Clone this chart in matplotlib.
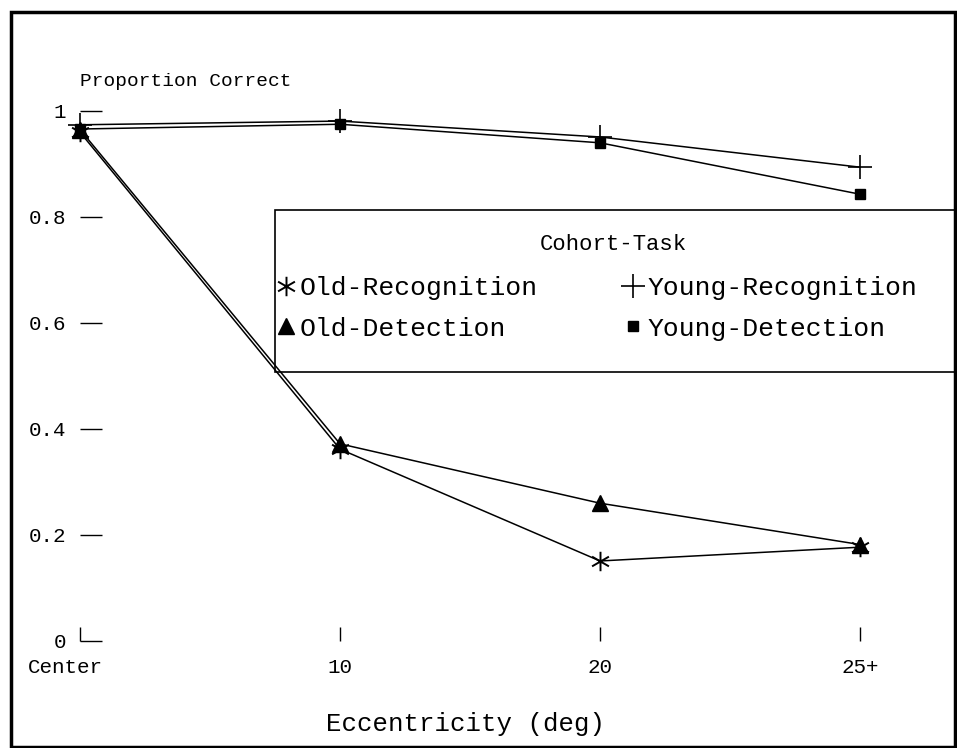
import numpy as np
import matplotlib
matplotlib.use("Agg")
import matplotlib.pyplot as plt
from matplotlib.path import Path
from matplotlib.patches import Rectangle
from matplotlib.lines import Line2D
from matplotlib.transforms import ScaledTranslation

plt.rcParams['font.family'] = ['Liberation Mono', 'DejaVu Sans Mono']

categories = ["Center", "10", "20", "25+"]
old_recognition = [0.960, 0.362, 0.151, 0.177]
old_detection = [0.965, 0.372, 0.260, 0.182]
young_recognition = [0.974, 0.981, 0.951, 0.894]
young_detection = [0.966, 0.975, 0.940, 0.843]
yticks = [0, 0.2, 0.4, 0.6, 0.8, 1]
ytick_labels = ["0", "0.2", "0.4", "0.6", "0.8", "1"]

W, H = 957, 748
fig = plt.figure(figsize=(W / 100, H / 100), dpi=100)
ax = fig.add_axes([80 / W, 1 - 641 / H, (860 - 80) / W, (641 - 111) / H])

c = np.cos(np.pi / 6)
ast = Path([(0, -1), (0, 1), (-c, -0.5), (c, 0.5), (-c, 0.5), (c, -0.5)],
           [Path.MOVETO, Path.LINETO, Path.MOVETO, Path.LINETO, Path.MOVETO, Path.LINETO])

x = np.arange(len(categories))
common = dict(color='black', lw=1.1, clip_on=False)
ax.plot(x, old_recognition, marker=ast, ms=14, mfc='none', mec='black', mew=1.4,
        label='Old-Recognition', **common)
ax.plot(x, old_detection, marker='^', ms=11, mfc='black', mec='black',
        label='Old-Detection', **common)
ax.plot(x, young_recognition, marker='+', ms=17, mew=1.2, mec='black',
        label='Young-Recognition', **common)
ax.plot(x, young_detection, marker='s', ms=7.5, mfc='black', mec='black',
        label='Young-Detection', **common)

ax.set_xlim(0, 3)
ax.set_ylim(0, 1)
for s in ax.spines.values():
    s.set_visible(False)
ax.set_xticks(x)
ax.set_xticklabels(categories, fontsize=15)
ax.set_yticks(yticks)
ax.set_yticklabels(ytick_labels, fontsize=15)
ax.tick_params(axis='y', direction='in', length=16, width=1.0, pad=10)
ax.tick_params(axis='x', direction='in', length=10, width=1.0, pad=12)
lab0 = ax.get_xticklabels()[0]
lab0.set_transform(lab0.get_transform() + ScaledTranslation(-0.15, 0, fig.dpi_scale_trans))

fig.text(80 / W, 1 - 82 / H, "Proportion Correct", fontsize=14, ha='left', va='center')
fig.text(466 / W, 1 - 724 / H, "Eccentricity (deg)", fontsize=18.5, ha='center', va='center')

# legend frame and title
fig.patches.append(Rectangle((275 / W, 1 - 372 / H), (955 - 275) / W, (372 - 210) / H,
                             transform=fig.transFigure, fill=False, ec='black', lw=1.2))
fig.text(613 / W, 1 - 245 / H, "Cohort-Task", fontsize=16, ha='center', va='center')

h1 = Line2D([], [], ls='none', marker=ast, ms=14, mfc='none', mec='black', mew=1.4)
h3 = Line2D([], [], ls='none', marker='^', ms=11, color='black')
h2 = Line2D([], [], ls='none', marker='+', ms=17, mew=1.2, color='black')
h4 = Line2D([], [], ls='none', marker='s', ms=7.5, color='black')
leg = fig.legend([h1, h3, h2, h4],
                 ['Old-Recognition', 'Old-Detection', 'Young-Recognition', 'Young-Detection'],
                 ncol=2, loc='upper left', bbox_to_anchor=(275 / W, 1 - 276 / H),
                 frameon=False, fontsize=19, handlelength=0.8, handletextpad=0.15,
                 columnspacing=3.2, labelspacing=0.63, borderpad=0, borderaxespad=0)

# outer border
fig.patches.append(Rectangle((11 / W, 1 / H), (955 - 11) / W, (747 - 12) / H,
                             transform=fig.transFigure, fill=False, ec='black', lw=2.5))

fig.savefig("out.png", dpi=100)
